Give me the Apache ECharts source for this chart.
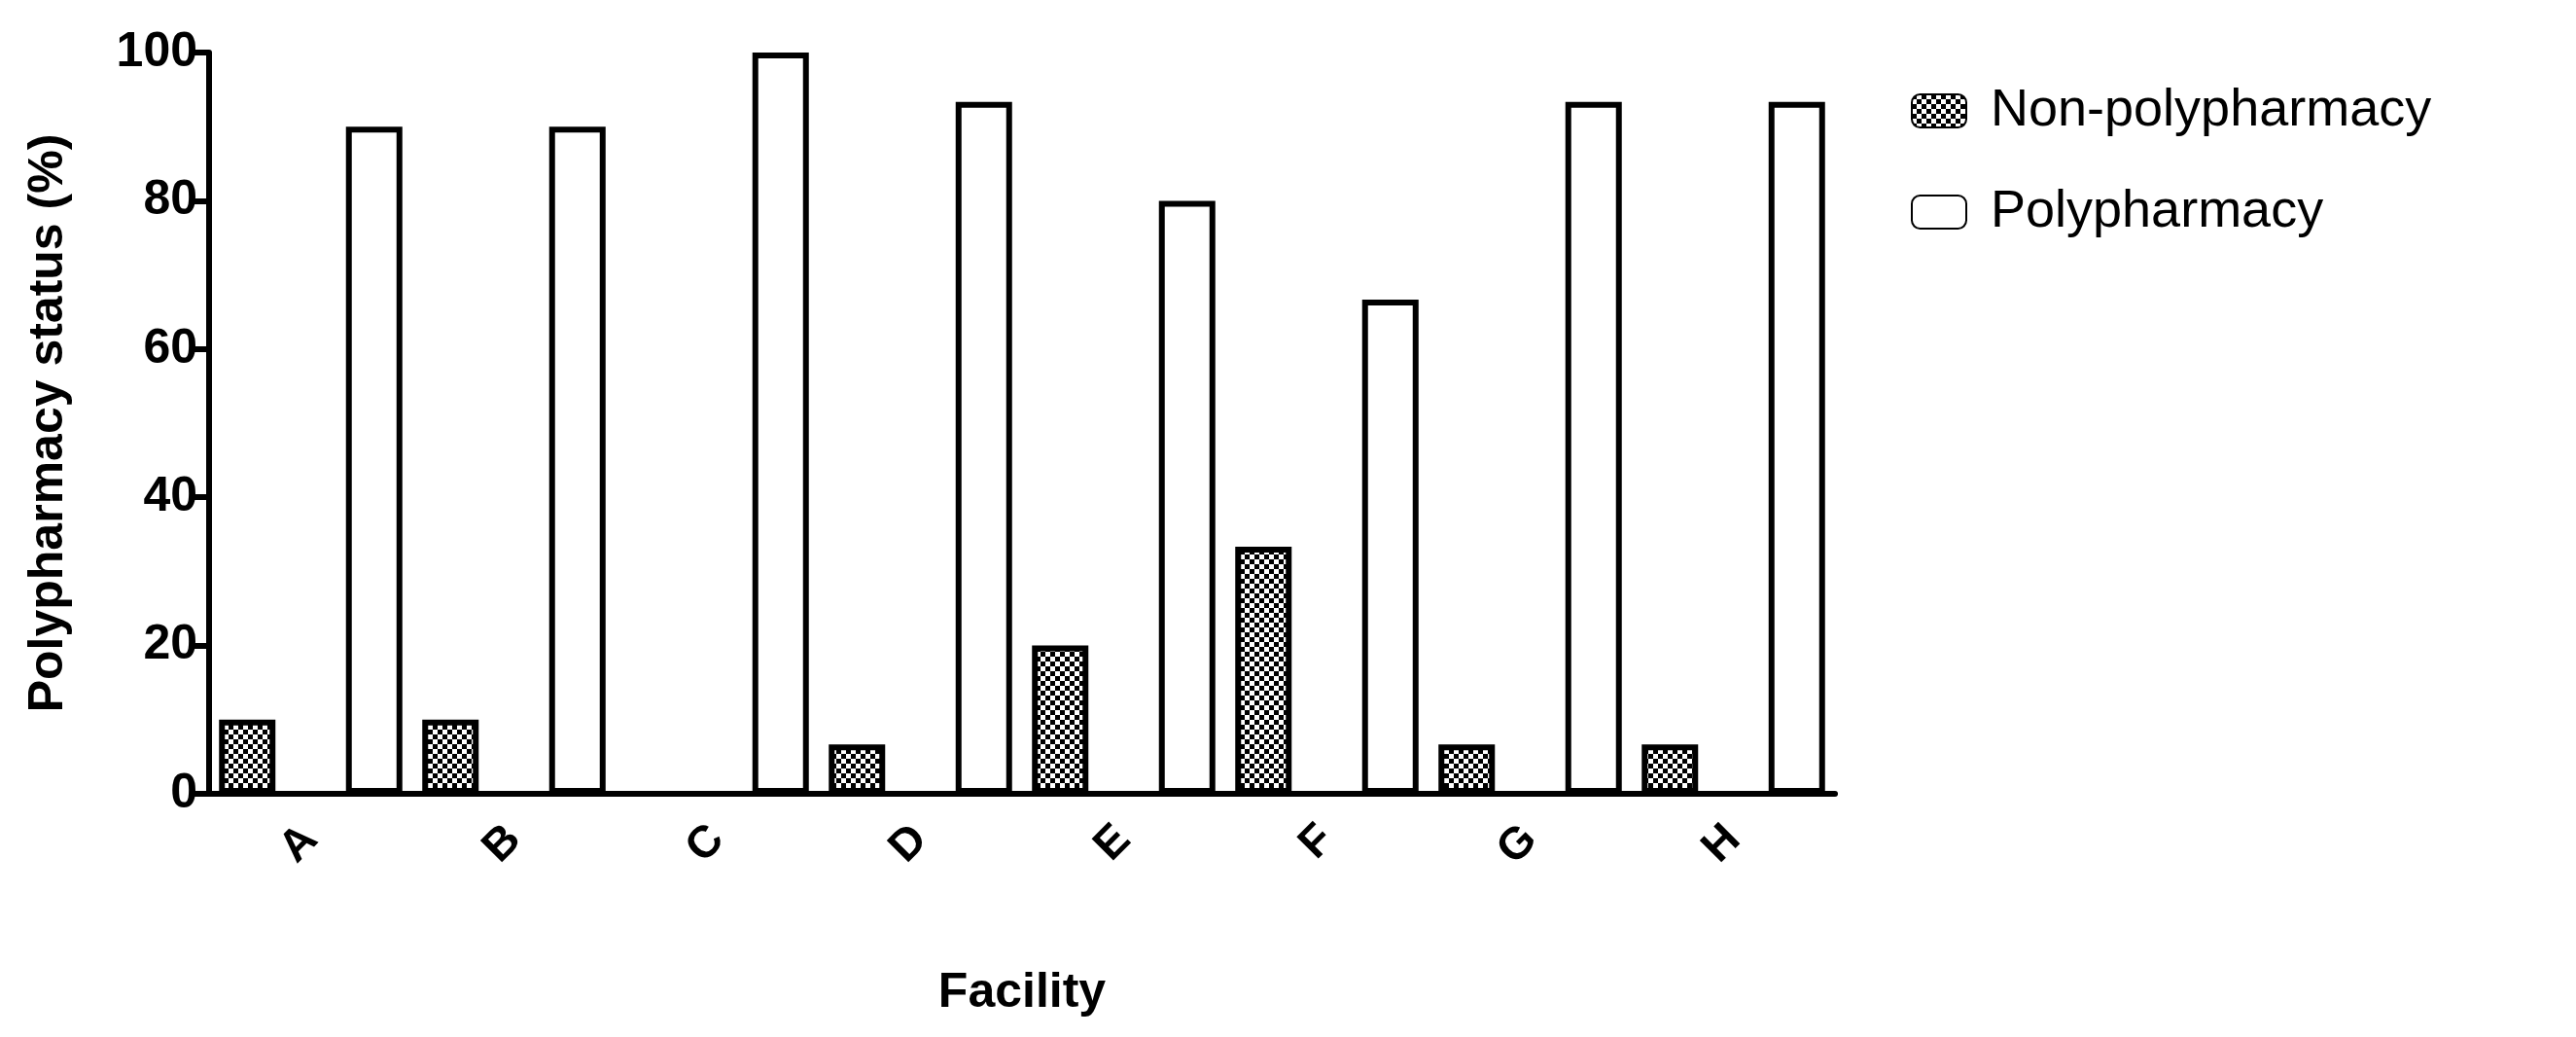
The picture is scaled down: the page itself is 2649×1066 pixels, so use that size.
<!DOCTYPE html>
<html>
<head>
<meta charset="utf-8">
<script src="https://cdn.jsdelivr.net/npm/echarts@6/dist/echarts.min.js"></script>
<style>
  html, body { margin: 0; padding: 0; background: #fff; }
  #chart { width: 2649px; height: 1066px; }
</style>
</head>
<body>
<div id="chart"></div>
<script>
// 数据
const facilities = ['A', 'B', 'C', 'D', 'E', 'F', 'G', 'H'];
const nonPoly = [10, 10, 0, 6.67, 20, 33.33, 6.67, 6.67];
const poly = [90, 90, 100, 93.33, 80, 66.67, 93.33, 93.33];
const yTicks = [0, 20, 40, 60, 80, 100];

// 棋盘格图案
function checker() {
  const c = document.createElement('canvas');
  c.width = 10; c.height = 10;
  const ctx = c.getContext('2d');
  ctx.fillStyle = '#fff';
  ctx.fillRect(0, 0, 10, 10);
  ctx.fillStyle = '#000';
  ctx.fillRect(0, 0, 5, 5);
  ctx.fillRect(5, 5, 5, 5);
  return c;
}

const chart = echarts.init(document.getElementById('chart'));
const font = 'Liberation Sans, Arial, sans-serif';
const axisLine = { lineStyle: { color: '#000', width: 6 } };

chart.setOption({
  animation: false,
  grid: { left: 215, top: 54, width: 1672, height: 762 },
  legend: {
    left: 1960, top: 82, orient: 'vertical',
    itemWidth: 56, itemHeight: 34, itemGap: 50,
    textStyle: { fontFamily: font, fontSize: 54, color: '#000', padding: [0, 0, 0, 20] },
    data: ['Non-polypharmacy', 'Polypharmacy']
  },
  xAxis: {
    type: 'category',
    data: facilities,
    name: 'Facility',
    nameLocation: 'middle',
    nameGap: 180,
    nameTextStyle: { fontFamily: font, fontSize: 50, fontWeight: 'bold', color: '#000' },
    axisLine: axisLine,
    axisTick: { alignWithLabel: true, length: 20, lineStyle: { color: '#000', width: 6 } },
    axisLabel: { rotate: 45, margin: 40, fontFamily: font, fontSize: 46, fontWeight: 'bold', color: '#000' }
  },
  yAxis: {
    type: 'value',
    min: yTicks[0], max: yTicks[yTicks.length - 1], interval: 20,
    name: 'Polypharmacy status (%)',
    nameLocation: 'middle',
    nameGap: 140,
    nameTextStyle: { fontFamily: font, fontSize: 50, fontWeight: 'bold', color: '#000' },
    axisLine: { show: true, lineStyle: { color: '#000', width: 6 } },
    axisTick: { show: true, length: 20, lineStyle: { color: '#000', width: 6 } },
    axisLabel: { margin: 12, fontFamily: font, fontSize: 50, fontWeight: 'bold', color: '#000' },
    splitLine: { show: false }
  },
  series: [
    {
      name: 'Non-polypharmacy', type: 'bar', data: nonPoly,
      barWidth: 58, barGap: '125%',
      itemStyle: { color: { image: checker(), repeat: 'repeat' }, borderColor: '#000', borderWidth: 6 }
    },
    {
      name: 'Polypharmacy', type: 'bar', data: poly,
      barWidth: 58,
      itemStyle: { color: '#fff', borderColor: '#000', borderWidth: 6 }
    }
  ]
});
</script>
</body>
</html>
